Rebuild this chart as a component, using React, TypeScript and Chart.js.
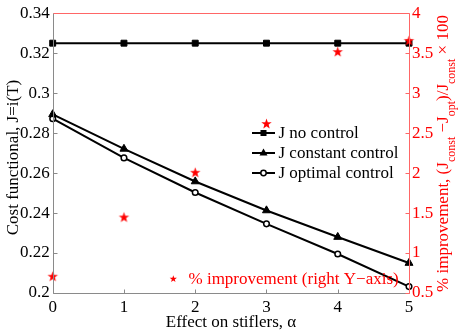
import React, { useEffect, useRef } from 'react';
import { Chart, registerables } from 'chart.js';
Chart.register(...registerables);

const alphaValues = [0, 1, 2, 3, 4, 5];
const jNoControl = [0.325, 0.325, 0.325, 0.325, 0.325, 0.325];
const jConstant = [0.2894, 0.2721, 0.2558, 0.2413, 0.228, 0.215];
const jOptimal = [0.2872, 0.2676, 0.2503, 0.2346, 0.2195, 0.2032];
const improvement = [0.71, 1.45, 2.01, 2.62, 3.52, 3.66];
const leftTicks = [0.2, 0.22, 0.24, 0.26, 0.28, 0.3, 0.32, 0.34];
const rightTicks = [0.5, 1, 1.5, 2, 2.5, 3, 3.5, 4];
const xTicks = [0, 1, 2, 3, 4, 5];
const legendLabels = ['J no control', 'J constant control', 'J optimal control'];
const starLegendLabel = '% improvement (right Y\u2212axis)';
const xTitle = 'Effect on stiflers, \u03b1';
const leftTitle = 'Cost functional, J=i(T)';

const FONT = '"Liberation Serif", "DejaVu Serif", serif';
const RED = '#ff0000';
const AXIS_GRAY = '#8a8a8a';
const AXIS_RED = '#ff6666';

function starPath(ctx: CanvasRenderingContext2D, cx: number, cy: number, r: number) {
  const inner = r * 0.4;
  ctx.beginPath();
  for (let i = 0; i < 10; i++) {
    const rad = i % 2 === 0 ? r : inner;
    const a = -Math.PI / 2 + (i * Math.PI) / 5;
    const px = cx + rad * Math.cos(a);
    const py = cy + rad * Math.sin(a);
    if (i === 0) ctx.moveTo(px, py);
    else ctx.lineTo(px, py);
  }
  ctx.closePath();
}

function makeStar(r: number, color: string) {
  const size = Math.ceil(r * 2 + 2);
  const c = document.createElement('canvas');
  c.width = size;
  c.height = size;
  const ctx = c.getContext('2d')!;
  ctx.fillStyle = color;
  starPath(ctx, size / 2, size / 2 + r * 0.08, r);
  ctx.fill();
  return c;
}

const fmt = (v: number) => String(+Number(v).toFixed(2));

const overlayPlugin = {
  id: 'overlay',
  afterDraw(chart: any) {
    const ctx: CanvasRenderingContext2D = chart.ctx;
    const { left, right, top, bottom } = chart.chartArea;
    const xs = chart.scales.x;
    const ys = chart.scales.y;
    const y2 = chart.scales.y2;
    const L = Math.round(left) + 0.5;
    const R = Math.round(right) + 0.5;
    const T = Math.round(top) + 0.5;
    const B = Math.round(bottom) + 0.5;
    ctx.save();
    ctx.lineWidth = 1;
    // gray axes
    ctx.strokeStyle = AXIS_GRAY;
    ctx.beginPath();
    ctx.moveTo(L, T);
    ctx.lineTo(L, B);
    ctx.lineTo(R, B);
    ctx.stroke();
    ctx.beginPath();
    leftTicks.forEach((v) => {
      const y = Math.round(ys.getPixelForValue(v)) + 0.5;
      ctx.moveTo(L, y);
      ctx.lineTo(L + 4, y);
    });
    xTicks.forEach((v) => {
      const x = Math.round(xs.getPixelForValue(v)) + 0.5;
      ctx.moveTo(x, B);
      ctx.lineTo(x, B - 4);
    });
    ctx.stroke();
    // red axes
    ctx.strokeStyle = AXIS_RED;
    ctx.beginPath();
    ctx.moveTo(L, T);
    ctx.lineTo(R, T);
    ctx.lineTo(R, B);
    ctx.stroke();
    ctx.beginPath();
    rightTicks.forEach((v) => {
      const y = Math.round(y2.getPixelForValue(v)) + 0.5;
      ctx.moveTo(R, y);
      ctx.lineTo(R - 4, y);
    });
    ctx.stroke();

    // legend
    const lx0 = 252;
    const lx1 = 275;
    const lmx = (lx0 + lx1) / 2;
    const textX = 278.5;
    const ly = [133, 153, 173];
    ctx.font = '17px ' + FONT;
    ctx.textBaseline = 'middle';
    ctx.textAlign = 'left';
    legendLabels.forEach((lab, i) => {
      const y = ly[i];
      ctx.strokeStyle = '#000';
      ctx.lineWidth = 2;
      ctx.beginPath();
      ctx.moveTo(lx0, y);
      ctx.lineTo(lx1, y);
      ctx.stroke();
      ctx.fillStyle = '#000';
      if (i === 0) {
        ctx.fillRect(lmx - 3, y - 3, 6, 6);
      } else if (i === 1) {
        ctx.beginPath();
        ctx.moveTo(lmx, y - 4.5);
        ctx.lineTo(lmx + 4, y + 2.5);
        ctx.lineTo(lmx - 4, y + 2.5);
        ctx.closePath();
        ctx.fill();
      } else {
        ctx.lineWidth = 1.5;
        ctx.fillStyle = '#fff';
        ctx.beginPath();
        ctx.arc(lmx, y, 2.7, 0, Math.PI * 2);
        ctx.fill();
        ctx.stroke();
      }
      ctx.fillStyle = '#000';
      ctx.fillText(lab, textX, y + 1);
    });
    // star legend
    ctx.fillStyle = RED;
    starPath(ctx, 173.3, 279, 3.8);
    ctx.fill();
    ctx.fillText(starLegendLabel, 188.5, 279.5);

    // x title
    ctx.fillStyle = '#000';
    ctx.textAlign = 'center';
    ctx.fillText(xTitle, 231, 323);

    // left title
    ctx.save();
    ctx.translate(14, 157.5);
    ctx.rotate(-Math.PI / 2);
    ctx.textAlign = 'center';
    ctx.fillText(leftTitle, 0, 0);
    ctx.restore();

    // right title with subscripts
    const segs: [string, boolean][] = [
      ['% improvement, (J', false],
      ['const', true],
      [' \u2212J', false],
      ['opt', true],
      [')/J', false],
      ['const', true],
      [' \u00d7 100', false],
    ];
    const mainFont = '17px ' + FONT;
    const subFont = '12px ' + FONT;
    let total = 0;
    const widths = segs.map(([s, sub]) => {
      ctx.font = sub ? subFont : mainFont;
      const w = ctx.measureText(s).width;
      total += w;
      return w;
    });
    ctx.save();
    ctx.translate(444, 153.5);
    ctx.rotate(-Math.PI / 2);
    ctx.textAlign = 'left';
    ctx.textBaseline = 'middle';
    ctx.fillStyle = RED;
    let cx = -total / 2;
    segs.forEach(([s, sub], i) => {
      ctx.font = sub ? subFont : mainFont;
      ctx.fillText(s, cx, sub ? 8 : 0);
      cx += widths[i];
    });
    ctx.restore();

    ctx.restore();
  },
};

export default function App() {
  const ref = useRef<HTMLCanvasElement>(null);
  useEffect(() => {
    const star = makeStar(5.5, RED);
    const pts = (ys: number[]) => alphaValues.map((x, i) => ({ x, y: ys[i] }));
    const chart = new Chart(ref.current!, {
      type: 'line',
      data: {
        datasets: [
          {
            label: starLegendLabel,
            data: pts(improvement),
            yAxisID: 'y2',
            showLine: false,
            clip: false,
            pointStyle: star as any,
            pointRadius: 6,
            borderColor: RED,
            backgroundColor: RED,
          },
          {
            label: legendLabels[0],
            data: pts(jNoControl),
            yAxisID: 'y',
            clip: false,
            borderColor: '#000',
            borderWidth: 2,
            pointStyle: 'rect',
            pointRadius: 4.2,
            pointBackgroundColor: '#000',
            pointBorderColor: '#000',
            pointBorderWidth: 1,
          },
          {
            label: legendLabels[1],
            data: pts(jConstant),
            yAxisID: 'y',
            clip: false,
            borderColor: '#000',
            borderWidth: 2,
            pointStyle: 'triangle',
            pointRadius: 4.6,
            pointBackgroundColor: '#000',
            pointBorderColor: '#000',
            pointBorderWidth: 1,
          },
          {
            label: legendLabels[2],
            data: pts(jOptimal),
            yAxisID: 'y',
            clip: false,
            borderColor: '#000',
            borderWidth: 2,
            pointStyle: 'circle',
            pointRadius: 2.8,
            pointBackgroundColor: '#fff',
            pointBorderColor: '#000',
            pointBorderWidth: 1.5,
          },
        ],
      },
      options: {
        animation: false,
        responsive: true,
        maintainAspectRatio: false,
        layout: { padding: { top: 13, left: 0, right: 0, bottom: 0 } },
        elements: { line: { tension: 0 } },
        plugins: { legend: { display: false }, tooltip: { enabled: false } },
        scales: {
          x: {
            type: 'linear',
            min: 0,
            max: 5,
            afterBuildTicks: (s: any) => {
              s.ticks = xTicks.map((v) => ({ value: v }));
            },
            afterFit: (s: any) => {
              s.height = 42;
            },
            grid: { display: false, drawTicks: false },
            border: { display: false },
            ticks: {
              color: '#000',
              font: { family: FONT, size: 17 },
              padding: 4,
              maxRotation: 0,
              callback: (v: any) => fmt(v),
            },
          },
          y: {
            type: 'linear',
            position: 'left',
            min: 0.2,
            max: 0.34,
            afterBuildTicks: (s: any) => {
              s.ticks = leftTicks.map((v) => ({ value: v }));
            },
            afterFit: (s: any) => {
              s.width = 52.7;
            },
            grid: { display: false, drawTicks: false },
            border: { display: false },
            ticks: {
              color: '#000',
              font: { family: FONT, size: 17 },
              padding: 3,
              callback: (v: any) => fmt(v),
            },
          },
          y2: {
            type: 'linear',
            position: 'right',
            min: 0.5,
            max: 4,
            afterBuildTicks: (s: any) => {
              s.ticks = rightTicks.map((v) => ({ value: v }));
            },
            afterFit: (s: any) => {
              s.width = 54;
            },
            grid: { display: false, drawTicks: false },
            border: { display: false },
            ticks: {
              color: RED,
              font: { family: FONT, size: 17 },
              padding: 3,
              callback: (v: any) => fmt(v),
            },
          },
        },
      } as any,
      plugins: [overlayPlugin],
    });
    return () => chart.destroy();
  }, []);
  return (
    <div style={{ position: 'absolute', left: 0, top: 0, width: 463, height: 335 }}>
      <canvas ref={ref} />
    </div>
  );
}
